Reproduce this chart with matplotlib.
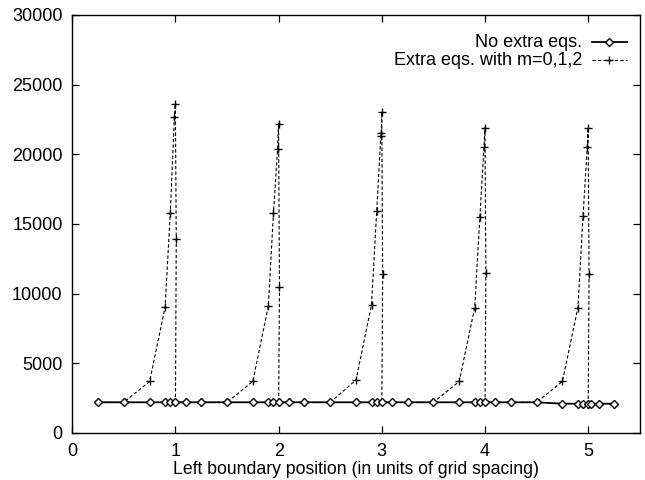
import numpy as np
import matplotlib.pyplot as plt
from matplotlib.lines import Line2D

plt.rcParams['font.family'] = ['Liberation Sans', 'DejaVu Sans']

# "No extra eqs." series
x_plain = [0.25, 0.5, 0.75, 0.9, 0.95, 1.0, 1.1, 1.25,
           1.5, 1.75, 1.9, 1.95, 2.0, 2.1, 2.25,
           2.5, 2.75, 2.9, 2.95, 3.0, 3.1, 3.25,
           3.5, 3.75, 3.9, 3.95, 4.0, 4.1, 4.25,
           4.5, 4.75, 4.9, 4.95, 5.0, 5.03, 5.1, 5.25]
y_plain = [2200, 2200, 2200, 2200, 2200, 2200, 2200, 2200,
           2200, 2200, 2200, 2200, 2200, 2200, 2200,
           2200, 2200, 2200, 2200, 2200, 2200, 2200,
           2200, 2200, 2200, 2200, 2200, 2200, 2200,
           2200, 2100, 2100, 2100, 2100, 2100, 2100, 2100]

# "Extra eqs. with m=0,1,2" series
x_extra = [0.25, 0.5, 0.75, 0.9, 0.95, 0.99, 0.999, 1.008, 1.0, 1.1, 1.25,
           1.5, 1.75, 1.9, 1.95, 1.99, 1.999, 2.008, 2.0, 2.1, 2.25,
           2.5, 2.75, 2.9, 2.95, 2.99, 2.995, 2.999, 3.008, 3.0, 3.1, 3.25,
           3.5, 3.75, 3.9, 3.95, 3.99, 3.999, 4.008, 4.0, 4.1, 4.25,
           4.5, 4.75, 4.9, 4.95, 4.99, 4.999, 5.008, 5.0, 5.1, 5.25]
y_extra = [2200, 2200, 3700, 9050, 15800, 22700, 23600, 13900, 2200, 2200, 2200,
           2200, 3700, 9100, 15800, 20400, 22200, 10500, 2200, 2200, 2200,
           2200, 3800, 9200, 15900, 21300, 21500, 23000, 11400, 2200, 2200, 2200,
           2200, 3700, 9000, 15500, 20500, 21900, 11500, 2200, 2200, 2200,
           2200, 3700, 9000, 15600, 20500, 21900, 11400, 2100, 2100, 2100]

labels = ['No extra eqs.', 'Extra eqs. with m=0,1,2']

fig = plt.figure(figsize=(6.45, 4.8), dpi=100)
ax = fig.add_axes([0.112, 0.098, 0.880, 0.871])

plain_style = dict(color='black', linestyle='-', linewidth=1.3, marker='D',
                   markersize=3.6, markerfacecolor='white',
                   markeredgewidth=1.0)
extra_style = dict(color='black', linestyle=(0, (3, 2)), linewidth=0.8,
                   marker='+', markersize=6, markeredgewidth=1.0)

ax.plot(x_extra, y_extra, **extra_style)
ax.plot(x_plain, y_plain, **plain_style)

ax.set_xlim(0, 5.5)
ax.set_ylim(0, 30000)
ax.set_xticks(np.arange(0, 6))
ax.set_yticks(np.arange(0, 30001, 5000))
ax.tick_params(direction='in', length=5, width=0.9, labelsize=13,
               top=True, right=True, pad=7)
for s in ax.spines.values():
    s.set_linewidth(1.0)
ax.set_xlabel('Left boundary position (in units of grid spacing)',
              fontsize=12.7, labelpad=1)

# gnuplot style key: right-aligned text, sample after it
for i, (lab, st) in enumerate(zip(labels, [plain_style, extra_style])):
    yk = 0.935 - i * 0.043
    ax.text(0.898, yk, lab, transform=ax.transAxes, ha='right',
            va='center', fontsize=13)
    ln = Line2D([0.915, 0.946, 0.977], [yk, yk, yk], transform=ax.transAxes,
                markevery=[1], **st)
    ax.add_line(ln)

fig.savefig('out.png', dpi=100)
